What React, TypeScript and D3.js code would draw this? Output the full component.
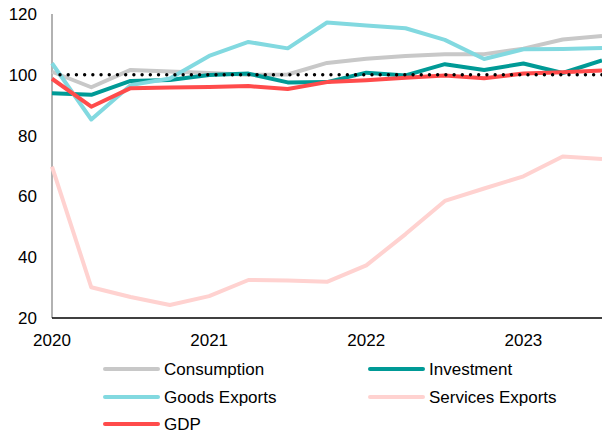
import React from 'react';
import * as d3 from 'd3';

// quarterly index levels, 2020Q1 .. 2023Q3
const quarters = [
  '2020Q1', '2020Q2', '2020Q3', '2020Q4',
  '2021Q1', '2021Q2', '2021Q3', '2021Q4',
  '2022Q1', '2022Q2', '2022Q3', '2022Q4',
  '2023Q1', '2023Q2', '2023Q3',
];
const consumption = [101, 95.9, 101.6, 101.1, 100.6, 100.0, 100.1, 103.9, 105.3, 106.2, 106.8, 106.8, 108.6, 111.6, 112.8];
const investment = [93.9, 93.4, 98.0, 98.3, 99.9, 100.4, 97.5, 97.6, 100.7, 99.8, 103.5, 101.6, 103.7, 100.6, 104.7];
const goodsExports = [103.8, 85.3, 96.6, 98.8, 106.2, 110.8, 108.7, 117.2, 116.2, 115.3, 111.5, 105.2, 108.4, 108.5, 108.8];
const servicesExports = [69.8, 30.1, 26.9, 24.3, 27.2, 32.5, 32.3, 31.9, 37.3, 47.6, 58.5, 62.6, 66.6, 73.1, 72.3];
const gdp = [98.7, 89.5, 95.6, 95.8, 96.0, 96.3, 95.3, 97.6, 98.2, 99.0, 99.8, 98.9, 100.4, 100.8, 101.4];

const yTicks = [20, 40, 60, 80, 100, 120];
const yearTicks = [
  { label: '2020', index: 0 },
  { label: '2021', index: 4 },
  { label: '2022', index: 8 },
  { label: '2023', index: 12 },
];
const baseline = 100;

const series = [
  { name: 'Consumption', values: consumption, color: '#c8c8c8' },
  { name: 'Investment', values: investment, color: '#009a96' },
  { name: 'Goods Exports', values: goodsExports, color: '#82d9e0' },
  { name: 'Services Exports', values: servicesExports, color: '#ffd2d0' },
  { name: 'GDP', values: gdp, color: '#ff4b4b' },
];

const WIDTH = 602;
const HEIGHT = 434;
const FONT = '"Liberation Sans", Arial, sans-serif';

const App: React.FC = () => {
  const x = d3.scaleLinear().domain([0, quarters.length - 1]).range([52, 602]);
  const y = d3.scaleLinear().domain([20, 120]).range([318, 14]);

  const line = d3.line<number>()
    .x((_, i) => x(i))
    .y(d => y(d));

  // legend: two columns, three rows
  const legendCols = [105, 370];
  const legendRows = [369, 397, 424];

  return (
    <div style={{ position: 'fixed', left: 0, top: 0 }}>
      <svg width={WIDTH} height={HEIGHT} style={{ display: 'block', fontFamily: FONT }}>
        <rect width={WIDTH} height={HEIGHT} fill="white" />

        {/* y tick labels */}
        {yTicks.map(t => (
          <text key={t} x={37} y={y(t) + 6} textAnchor="end" fontSize={17} fill="#000">{t}</text>
        ))}

        {/* x tick labels */}
        {yearTicks.map(t => (
          <text key={t.label} x={x(t.index)} y={346} textAnchor="middle" fontSize={17} fill="#000">{t.label}</text>
        ))}

        {/* axes */}
        <line x1={52} x2={52} y1={y(120)} y2={y(20)} stroke="#7f7f7f" strokeWidth={1.2} />

        {/* series */}
        {series.map(s => (
          <path key={s.name} d={line(s.values) || ''} fill="none" stroke={s.color}
            strokeWidth={4} strokeLinejoin="round" />
        ))}

        {/* 100 reference line */}
        <line x1={x(0) + 8} x2={602} y1={y(baseline)} y2={y(baseline)}
          stroke="#000" strokeWidth={3.4} strokeLinecap="round" strokeDasharray="0.01 8.2" />

        <line x1={52} x2={602} y1={y(20)} y2={y(20)} stroke="#000" strokeWidth={1.3} />

        {/* legend */}
        {series.map((s, i) => {
          const cx = legendCols[i % 2];
          const cy = legendRows[Math.floor(i / 2)];
          return (
            <g key={s.name}>
              <line x1={cx} x2={cx + 53} y1={cy} y2={cy} stroke={s.color} strokeWidth={4} strokeLinecap="round" />
              <text x={cx + 59} y={cy + 6} fontSize={17} fill="#000">{s.name}</text>
            </g>
          );
        })}
      </svg>
    </div>
  );
};

export default App;
